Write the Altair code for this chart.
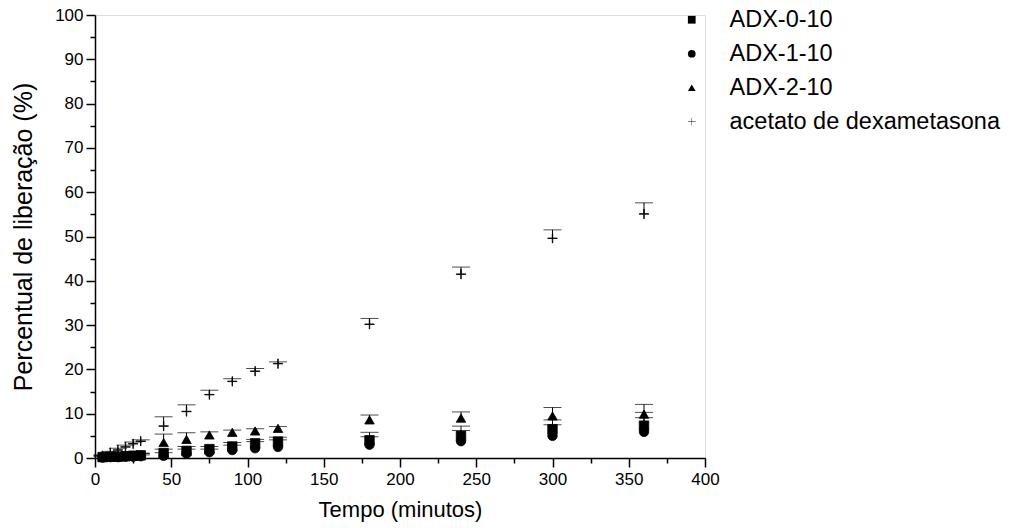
import altair as alt
import pandas as pd

times = [5, 10, 15, 20, 25, 30, 45, 60, 75, 90, 105, 120, 180, 240, 300, 360]

series_names = ["ADX-0-10", "ADX-1-10", "ADX-2-10", "acetato de dexametasona"]

adx0_val = [0.2, 0.3, 0.3, 0.4, 0.5, 0.6, 1.1, 1.6, 2.0, 2.6, 3.3, 3.7, 4.0, 5.0, 6.5, 7.3]
adx0_up = [0.5, 0.6, 0.7, 0.8, 0.9, 1.0, 2.0, 2.6, 2.6, 3.5, 4.2, 4.7, 5.8, 7.2, 8.6, 10.3]

adx1_val = [0.1, 0.2, 0.2, 0.3, 0.3, 0.4, 0.5, 1.0, 1.3, 1.8, 2.2, 2.5, 3.0, 3.8, 5.0, 5.9]
adx1_up = [0.3, 0.4, 0.4, 0.5, 0.6, 0.7, 1.2, 2.0, 2.0, 2.9, 3.7, 4.1, 4.8, 6.2, 7.5, 9.1]

adx2_val = [0.3, 0.4, 0.5, 0.6, 0.7, 0.8, 3.5, 4.2, 5.2, 5.8, 6.1, 6.7, 8.6, 9.0, 9.5, 9.9]
adx2_up = [0.6, 0.7, 0.8, 0.9, 1.0, 1.1, 5.4, 5.7, 5.9, 6.3, 6.6, 7.1, 9.7, 10.4, 11.4, 12.1]

dex_val = [0.5, 1.2, 1.8, 2.5, 3.2, 3.8, 7.2, 10.5, 14.3, 17.3, 19.6, 21.3, 30.2, 41.5, 49.6, 55.1]
dex_up = [0.7, 1.5, 2.2, 2.9, 3.6, 4.1, 9.3, 12.0, 15.3, 17.9, 20.2, 21.7, 31.5, 43.1, 51.5, 57.6]

rows = []
for name, vals, ups in zip(series_names,
                           [adx0_val, adx1_val, adx2_val, dex_val],
                           [adx0_up, adx1_up, adx2_up, dex_up]):
    for t, v, u in zip(times, vals, ups):
        rows.append({"tempo": t, "serie": name, "valor": v, "sup": u})
df = pd.DataFrame(rows)

FONT = "Liberation Sans"
# thin plus sign as a closed outline so that it fills like the other symbols
plus_path = ("M-1,-0.05L-0.05,-0.05L-0.05,-1L0.05,-1L0.05,-0.05L1,-0.05"
             "L1,0.05L0.05,0.05L0.05,1L-0.05,1L-0.05,0.05L-1,0.05Z")

x_enc = alt.X(
    "tempo:Q",
    scale=alt.Scale(domain=[0, 400], nice=False, zero=False),
    axis=alt.Axis(
        title="Tempo (minutos)",
        values=list(range(0, 401, 25)),
        labelExpr="datum.value % 50 === 0 ? datum.label : ''",
        tickSize={"condition": {"test": "datum.value % 50 === 0", "value": 9}, "value": 5},
        grid=False, labelFlush=False, labelOverlap=False,
        domainColor="black", tickColor="black", domainWidth=1.5, tickWidth=1.5,
        labelFont=FONT, labelFontSize=17, labelColor="black", labelPadding=4,
        titleFont=FONT, titleFontSize=22, titleFontWeight="normal", titleColor="black",
        titlePadding=12,
    ),
)

y_axis = alt.Axis(
    title="Percentual de liberação (%)",
    values=list(range(0, 101, 5)),
    labelExpr="datum.value % 10 === 0 ? datum.label : ''",
    tickSize={"condition": {"test": "datum.value % 10 === 0", "value": 9}, "value": 5},
    grid=False, labelFlush=False, labelOverlap=False,
    domainColor="black", tickColor="black", domainWidth=1.5, tickWidth=1.5,
    labelFont=FONT, labelFontSize=17, labelColor="black", labelPadding=3,
    titleFont=FONT, titleFontSize=25, titleFontWeight="normal", titleColor="black",
    titlePadding=18,
)
y_scale = alt.Scale(domain=[0, 100], nice=False, zero=False)

base = alt.Chart(df)

rules = base.mark_rule(color="black", strokeWidth=1).encode(
    x=x_enc,
    y=alt.Y("valor:Q", scale=y_scale, axis=y_axis),
    y2="sup:Q",
)

caps = base.mark_tick(orient="horizontal", size=18, thickness=1, color="black").encode(
    x=x_enc,
    y=alt.Y("sup:Q", scale=y_scale, axis=y_axis),
)

points = base.mark_point(filled=True, size=90, color="black", fill="black",
                         stroke="black", strokeWidth=0.8, opacity=1,
                         fillOpacity=1, strokeOpacity=1).encode(
    x=x_enc,
    y=alt.Y("valor:Q", scale=y_scale, axis=y_axis),
    shape=alt.Shape(
        "serie:N",
        scale=alt.Scale(domain=series_names,
                        range=["square", "circle", "triangle-up", plus_path]),
        legend=alt.Legend(
            title=None, orient="none", legendX=585, legendY=-7,
            labelFont=FONT, labelFontSize=23.5, labelColor="black",
            labelOffset=26, labelLimit=400, rowPadding=9, padding=0,
            symbolSize=60, symbolFillColor="black", symbolStrokeColor="black",
            symbolStrokeWidth=0.8, symbolOpacity=1,
        ),
    ),
)

chart = alt.layer(rules, caps, points).properties(
    width=610, height=443,
    padding={"left": 95, "top": 15, "right": 305, "bottom": 70},
    autosize=alt.AutoSizeParams(type="none"),
).configure_view(stroke=None).configure(background="white")

chart.save("out.html", embed_options={"renderer": "svg", "actions": False})
